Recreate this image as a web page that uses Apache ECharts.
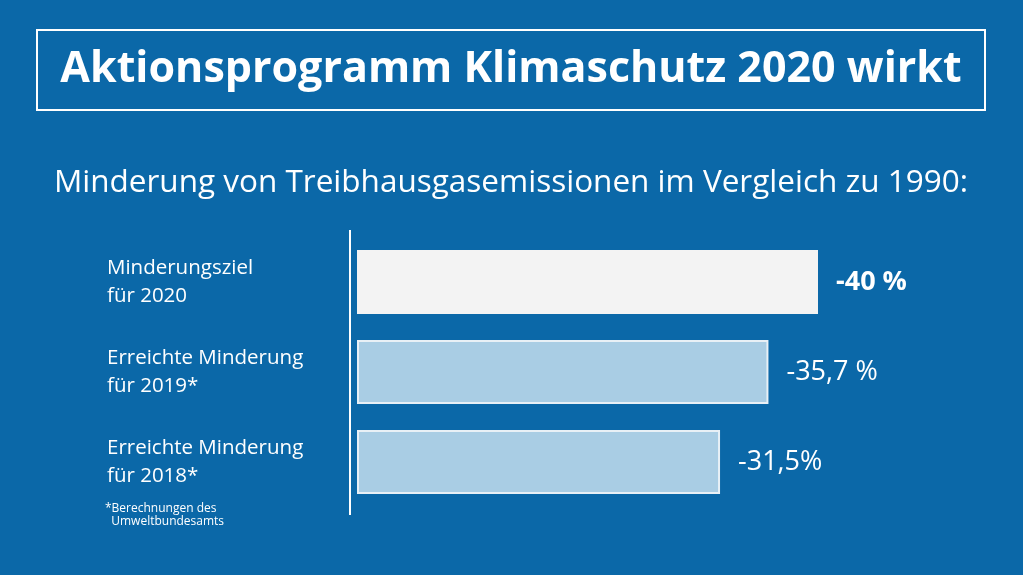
<!DOCTYPE html><html><head><meta charset="utf-8"><script src="https://cdn.jsdelivr.net/npm/echarts@6/dist/echarts.min.js"></script>
<style>html,body{margin:0;background:#0b68a8}#c{width:1023px;height:575px}</style></head><body><div id="c"></div><script>
const categories=["Minderungsziel\nfür 2020","Erreichte Minderung\nfür 2019*","Erreichte Minderung\nfür 2018*"];
const values=[40,35.7,31.5];
const valueLabels=["-40 %","-35,7 %","-31,5%"];
const barColors=["#f3f3f3","#a9cde4","#a9cde4"];
const F='"Open Sans","Noto Sans",sans-serif';
const ch=echarts.init(document.getElementById('c'));
ch.setOption({backgroundColor:'#0b68a8',animation:false,
grid:{left:357,right:205,top:237,bottom:68},
xAxis:{type:'value',min:0,max:40,show:false},
yAxis:{type:'category',inverse:true,data:categories,
 axisLine:{show:false},axisTick:{show:false},
 axisLabel:{color:'#fff',fontFamily:F,fontSize:20.5,lineHeight:28,align:'left',margin:250}},
series:[{type:'bar',barWidth:64,
 data:values.map((v,i)=>({value:v,itemStyle:{color:barColors[i],borderColor:'#e8f0f6',borderWidth:i?2:0},
  label:{show:true,position:'right',distance:18,formatter:valueLabels[i],color:'#fff',fontFamily:F,fontSize:27,fontWeight:i?'normal':'bold'}}))}],
graphic:[
 {type:'line',shape:{x1:350,y1:230,x2:350,y2:515},style:{stroke:'#fff',lineWidth:2}},
 {type:'rect',shape:{x:37,y:30,width:948,height:80},style:{fill:'none',stroke:'#fff',lineWidth:2}},
 {type:'text',x:511,y:70,style:{text:'Aktionsprogramm Klimaschutz 2020 wirkt',fill:'#fff',font:'bold 43px '+F,align:'center',verticalAlign:'middle'}},
 {type:'text',x:511,y:183,style:{text:'Minderung von Treibhausgasemissionen im Vergleich zu 1990:',fill:'#fff',font:'31.5px '+F,align:'center',verticalAlign:'middle'}},
 {type:'text',x:105,y:502,style:{text:'*Berechnungen des\n  Umweltbundesamts',fill:'#fff',font:'12px '+F,lineHeight:13}}
]});
</script></body></html>
